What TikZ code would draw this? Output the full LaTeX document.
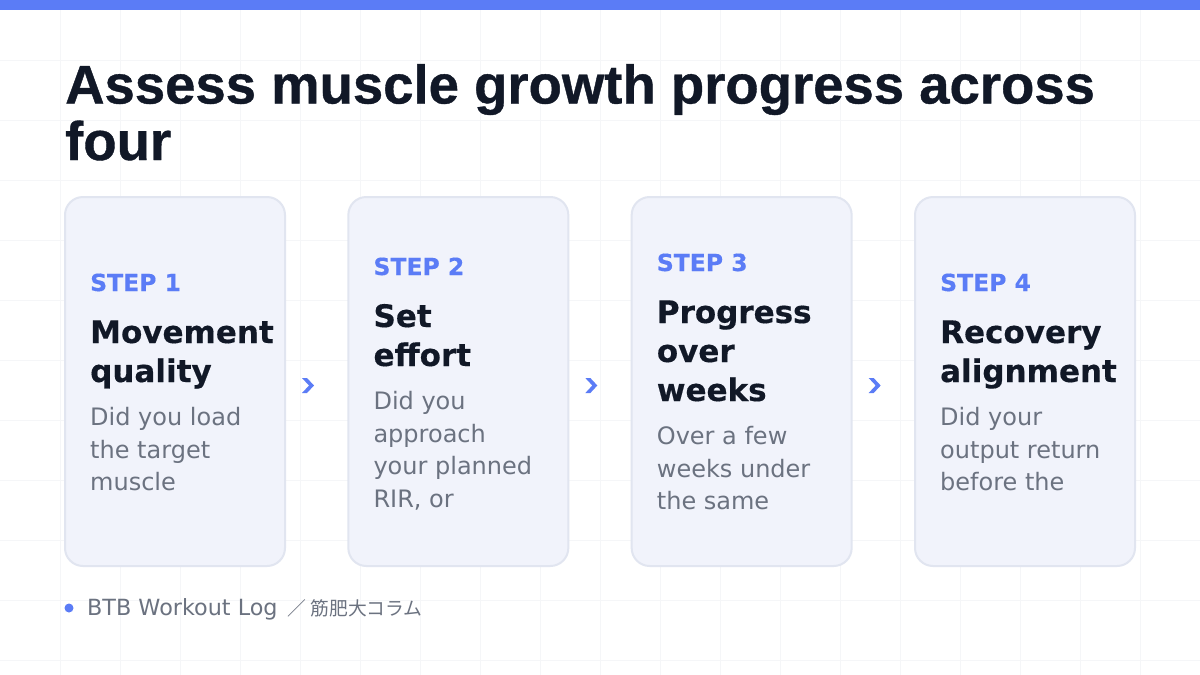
\documentclass[tikz,border=0pt]{standalone}
\usepackage{fontspec}
\setmainfont{DejaVu Sans}
\newfontfamily\headfont[FakeBold=0.7]{Liberation Sans Bold}
\newfontfamily\cardfont[FakeBold=0.4]{DejaVu Sans Bold}
\newfontfamily\cjkfont{Noto Sans CJK JP}
\usetikzlibrary{calc,positioning}

\definecolor{accent}{HTML}{5B7CF6}
\definecolor{ink}{HTML}{111827}
\definecolor{muted}{HTML}{6B7280}
\definecolor{cardfill}{HTML}{F1F3FB}
\definecolor{cardline}{HTML}{E1E5F0}
\definecolor{gridc}{HTML}{F5F6F8}

\begin{document}
\begin{tikzpicture}[x=1pt, y=-1pt,
    gridline/.style={draw=gridc, line width=1pt},
    headline/.style={anchor=base west, inner sep=0pt, text=ink,
        font=\headfont\fontsize{54.5}{60}\selectfont},
    card/.style={draw=cardline, line width=2pt, fill=cardfill, rounded corners=18pt,
        minimum width=220pt, minimum height=369pt, inner sep=0pt},
    steplbl/.style={anchor=base west, inner sep=0pt, text=accent,
        font=\cardfont\fontsize{23.5}{28}\selectfont},
    cardtitle/.style={anchor=base west, inner sep=0pt, text=ink,
        font=\cardfont\fontsize{31}{39}\selectfont},
    cardbody/.style={anchor=base west, inner sep=0pt, text=muted,
        font=\fontsize{24}{32}\selectfont},
    chev/.style={fill=accent},
    foot/.style={anchor=base west, inner sep=0pt, text=muted,
        font=\fontsize{22.3}{26}\selectfont}]
    \useasboundingbox (0,0) rectangle (1200,675);
    \fill[white] (0,0) rectangle (1200,675);

    % faint grid
    \foreach \x in {60,120,...,1140} {\draw[gridline] (\x,0) -- (\x,675);}
    \foreach \y in {60,120,...,660} {\draw[gridline] (0,\y) -- (1200,\y);}

    \fill[accent] (0,0) rectangle (1200,10);

    \node[headline] (hd1) at (65,103.5) {Assess muscle growth progress across};
    \node[headline] (hd2) at (65,160) {four};

    % cards: number / centre x / step baseline / body baseline / title lines / body lines
    \foreach \n/\cx/\sy/\by/\ttl/\bdy in {
        1/175/291/425.5/{Movement,quality}/{Did you load,the target,muscle},
        2/458.33/275/409.5/{Set,effort}/{Did you,approach,your planned,{RIR, or}},
        3/741.67/271/444.5/{Progress,over,weeks}/{Over a few,weeks under,the same},
        4/1025/291/425.5/{Recovery,alignment}/{Did your,output return,before the}} {
        \node[card] (c\n) at (\cx,381.5) {};
        \node[steplbl] (st\n) at ({\cx-85},\sy) {STEP \n};
        \foreach \t [count=\j] in \ttl
            {\node[cardtitle] (tl\n-\j) at ({\cx-85},{\sy+52+39*(\j-1)}) {\t};}
        \foreach \t [count=\j] in \bdy
            {\node[cardbody] (bd\n-\j) at ({\cx-85},{\by+32.5*(\j-1)}) {\t};}
    }

    % chevrons between the cards
    \foreach \a/\b in {1/2,2/3,3/4}
        {\fill[chev] ($(c\a.east)+(16,-3.5)$) -- ++(5,0) -- ++(7,7.5) -- ++(-7,7.5)
            -- ++(-5,0) -- ++(7,-7.5) -- cycle;}

    \fill[accent] (69,608) circle (4.5) coordinate (dot);
    \node[foot] (src) at (87,615.5) {BTB Workout Log\hspace{10pt}{\cjkfont\fontsize{18.8}{24}\selectfont ／\hspace{4pt}筋肥大コラム}};
\end{tikzpicture}
\end{document}
